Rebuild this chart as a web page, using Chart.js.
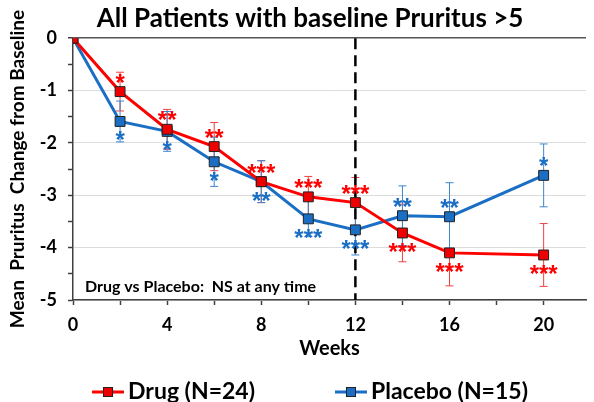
<!DOCTYPE html>
<html>
<head>
<meta charset="utf-8">
<title>All Patients with baseline Pruritus >5</title>
<script src="https://cdn.jsdelivr.net/npm/chart.js@4.4.0/dist/chart.umd.min.js"></script>
<style>
  html, body { margin: 0; padding: 0; background: #fff; }
  #wrap { width: 594px; height: 402px; }
</style>
</head>
<body>
<div id="wrap"><canvas id="pruritusChart" width="594" height="402"></canvas></div>
<script>
// data
const weeks = [0, 2, 4, 6, 8, 10, 12, 14, 16, 20];
const drugMean = [0, -1.02, -1.74, -2.07, -2.74, -3.03, -3.14, -3.72, -4.10, -4.14];
const drugErr = [0, 0.37, 0.38, 0.46, 0.40, 0.39, 0.48, 0.55, 0.63, 0.60];
const drugStars = ["", "*", "**", "**", "***", "***", "***", "***", "***", "***"];
const placeboMean = [0, -1.59, -1.78, -2.36, -2.74, -3.45, -3.66, -3.39, -3.41, -2.62];
const placeboErr = [0, 0.39, 0.38, 0.47, 0.40, 0.34, 0.48, 0.57, 0.65, 0.60];
const placeboStars = ["", "*", "*", "*", "**", "***", "***", "**", "**", "*"];
const xTickLabels = [0, 4, 8, 12, 16, 20];
const yTickLabels = [0, -1, -2, -3, -4, -5];
const cutoffWeek = 12;
const seriesLabels = ["Drug (N=24)", "Placebo (N=15)"];
const noteText = "Drug vs Placebo:  NS at any time";

const FONT = "Lato, 'Open Sans', sans-serif";
const STAR_FONT = "bold 24px 'Liberation Sans', Arial, sans-serif";
const RED = "#ff0000";
const BLUE = "#1a6fc4";

// error bars, significance stars, cutoff line, note, legend
const extrasPlugin = {
  id: "extras",
  beforeDatasetsDraw(chart) {
    const { ctx, scales: { x, y }, chartArea } = chart;
    chart.data.datasets.forEach(ds => {
      ctx.save();
      ctx.strokeStyle = ds.errColor;
      ctx.lineWidth = 1;
      ds.data.forEach((p, i) => {
        const e = ds.err[i];
        if (!e) return;
        const px = x.getPixelForValue(p.x);
        const top = y.getPixelForValue(p.y + e);
        const bot = y.getPixelForValue(p.y - e);
        ctx.beginPath();
        ctx.moveTo(px, top); ctx.lineTo(px, bot);
        ctx.moveTo(px - 4, top); ctx.lineTo(px + 4, top);
        ctx.moveTo(px - 4, bot); ctx.lineTo(px + 4, bot);
        ctx.stroke();
      });
      ctx.restore();
    });

    // dashed line at the end of treatment
    const cx = x.getPixelForValue(cutoffWeek);
    ctx.save();
    ctx.strokeStyle = "#000";
    ctx.lineWidth = 2.5;
    ctx.setLineDash([11, 6]);
    ctx.beginPath();
    ctx.moveTo(cx, chartArea.top);
    ctx.lineTo(cx, chartArea.bottom);
    ctx.stroke();
    ctx.restore();
  },
  afterDatasetsDraw(chart) {
    const { ctx, scales: { x, y }, chartArea } = chart;
    const [drug, placebo] = chart.data.datasets;
    ctx.save();
    ctx.font = STAR_FONT;
    ctx.textAlign = "center";
    ctx.textBaseline = "alphabetic";
    chart.data.datasets.forEach((ds, k) => {
      const other = k === 0 ? placebo : drug;
      ctx.fillStyle = ds.borderColor;
      ds.data.forEach((p, i) => {
        if (!ds.stars[i]) return;
        const above = k === 0 ? p.y >= other.data[i].y : p.y > other.data[i].y;
        const py = y.getPixelForValue(p.y);
        const glyphCenter = above ? py - 15 : py + 13;
        ctx.fillText(ds.stars[i], x.getPixelForValue(p.x), glyphCenter + 14);
      });
    });

    ctx.fillStyle = "#000";
    ctx.font = "bold 16px " + FONT;
    ctx.textAlign = "left";
    ctx.textBaseline = "middle";
    ctx.fillText(noteText, chartArea.left + 12, chartArea.bottom - 13);
    ctx.restore();
  },
  afterDraw(chart) {
    // legend: line + square marker, then label
    const { ctx } = chart;
    const o = chart.options.plugins.extras;
    ctx.save();
    ctx.font = "bold " + o.legendFont + "px " + FONT;
    ctx.textBaseline = "middle";
    ctx.textAlign = "left";
    const items = chart.data.datasets.map(ds => ({ ds, w: o.iconW + o.iconGap + ctx.measureText(ds.label).width }));
    const total = items.reduce((a, it) => a + it.w, 0) + o.itemGap * (items.length - 1);
    let cx = o.legendCenter - total / 2;
    const cy = chart.height - o.legendBottom;
    items.forEach(({ ds, w }) => {
      ctx.strokeStyle = ds.borderColor;
      ctx.lineWidth = 3;
      ctx.beginPath();
      ctx.moveTo(cx, cy); ctx.lineTo(cx + o.iconW, cy);
      ctx.stroke();
      ctx.fillStyle = ds.pointBackgroundColor;
      ctx.fillRect(cx + o.iconW / 2 - 5, cy - 5, 10, 10);
      ctx.strokeStyle = "#222";
      ctx.lineWidth = 1;
      ctx.strokeRect(cx + o.iconW / 2 - 4.5, cy - 4.5, 9, 9);
      ctx.fillStyle = "#000";
      ctx.fillText(ds.label, cx + o.iconW + o.iconGap, cy);
      cx += w + o.itemGap;
    });
    ctx.restore();
  }
};

function toPoints(ys) {
  return weeks.map((w, i) => ({ x: w, y: ys[i] }));
}

const ctx = document.getElementById("pruritusChart").getContext("2d");
new Chart(ctx, {
  type: "line",
  data: {
    datasets: [
      {
        label: seriesLabels[0],
        data: toPoints(drugMean),
        err: drugErr,
        stars: drugStars,
        errColor: "#f04040",
        borderColor: RED,
        backgroundColor: RED,
        pointBackgroundColor: "#ee0000",
        pointBorderColor: "#222",
        pointBorderWidth: 1,
        pointStyle: "rect",
        pointRadius: 7,
        borderWidth: 3,
        tension: 0
      },
      {
        label: seriesLabels[1],
        data: toPoints(placeboMean),
        err: placeboErr,
        stars: placeboStars,
        errColor: "#3c86d0",
        borderColor: BLUE,
        backgroundColor: BLUE,
        pointBackgroundColor: BLUE,
        pointBorderColor: "#222",
        pointBorderWidth: 1,
        pointStyle: "rect",
        pointRadius: 7,
        borderWidth: 3,
        tension: 0
      }
    ]
  },
  options: {
    responsive: false,
    animation: false,
    devicePixelRatio: 1,
    layout: { padding: { left: 30, right: 4, top: 0, bottom: 46 } },
    scales: {
      x: {
        type: "linear",
        min: 0,
        max: 21.8,
        afterBuildTicks: scale => {
          scale.ticks = scale.ticks.filter(t => t.value % 2 === 0);
        },
        afterFit: scale => { scale.height = 56; },
        border: { color: "#404040", width: 1.5 },
        grid: { drawOnChartArea: false, tickLength: 5, tickColor: "#404040", tickWidth: 1.5 },
        ticks: {
          stepSize: 2,
          includeBounds: false,
          padding: 9,
          color: "#000",
          font: { family: FONT, size: 18, weight: "bold" },
          callback: v => (xTickLabels.includes(v) ? String(v) : "")
        },
        title: {
          display: true,
          text: "Weeks",
          color: "#000",
          padding: { top: 0, bottom: -5 },
          font: { family: FONT, size: 20, weight: "bold" }
        }
      },
      y: {
        min: -5,
        max: 0,
        afterFit: scale => { scale.width = 43; },
        border: { color: "#404040", width: 1.5 },
        grid: {
          color: c => (c.tick.value === 0 ? "#555" : Number.isInteger(c.tick.value) ? "#dcdcdc" : "rgba(0,0,0,0)"),
          lineWidth: c => (c.tick.value === 0 ? 1.5 : 1),
          tickLength: 5,
          tickColor: "#404040",
          tickWidth: 1.5
        },
        ticks: {
          stepSize: 0.5,
          padding: 11,
          color: "#000",
          font: { family: FONT, size: 18, weight: "bold" },
          callback: v => (yTickLabels.includes(v) ? String(v) : "")
        },
        title: {
          display: true,
          text: "Mean  Pruritus  Change from Baseline",
          color: "#000",
          padding: { top: -24, bottom: 0 },
          font: { family: FONT, size: 19, weight: "bold" }
        }
      }
    },
    plugins: {
      legend: { display: false },
      tooltip: { enabled: false },
      title: {
        display: true,
        text: "All Patients with baseline Pruritus >5",
        color: "#000",
        padding: { top: 3, bottom: 4 },
        font: { family: FONT, size: 26, weight: "bold" }
      },
      extras: {
        legendFont: 23,
        legendCenter: 310,
        legendBottom: 10,
        iconW: 32,
        iconGap: 4,
        itemGap: 80
      }
    }
  },
  plugins: [extrasPlugin]
});
</script>
</body>
</html>
